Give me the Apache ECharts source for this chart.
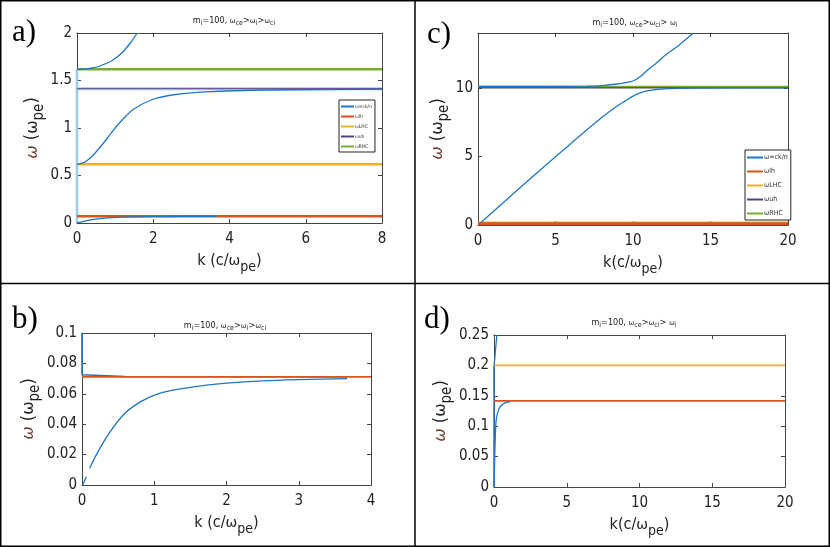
<!DOCTYPE html>
<html><head><meta charset="utf-8">
<script src="https://cdn.jsdelivr.net/npm/echarts@6/dist/echarts.min.js"></script>
<style>html,body{margin:0;padding:0;background:#fff}#c{width:830px;height:547px}</style>
</head><body><div id="c"></div><script>
// ---------- axis ranges [min, max, interval] ----------
const aXAxis = [0, 8, 2],   aYAxis = [0, 2, 0.5];
const bXAxis = [0, 4, 1],   bYAxis = [0, 0.1, 0.02];
const cXAxis = [0, 20, 5],  cYAxis = [0, 14, 5];
const dXAxis = [0, 20, 5],  dYAxis = [0, 0.25, 0.05];

// ---------- level lines (names / values) ----------
const levelNames = ['wlh', 'wLHC', 'wuh', 'wRHC'];
const aLevels = [0.0707, 0.618, 1.414, 1.618];
const cLevels = [0.1, 0.2, 10.0, 10.1];
const bLevels = [0.0712];
const dLevels = [0.1415, 0.2];

// ---------- panel a: dispersion branches ----------
const aUpper = [[0,1.618],[0.21,1.622],[0.37,1.63],[0.58,1.65],[0.88,1.70],[1.06,1.75],[1.2,1.80],[1.41,1.90],[1.58,2.0]];
const aMiddle = [[0,0.618],[0.14,0.63],[0.24,0.65],[0.39,0.70],[0.61,0.80],[0.81,0.90],[1.0,1.0],[1.22,1.10],[1.49,1.20],[1.98,1.30],[2.54,1.35],[3.37,1.38],[5.09,1.40],[8,1.409]];
const aLower = [[0,0],[0.1,0.01],[0.2,0.02],[0.36,0.033],[0.59,0.047],[0.82,0.055],[1.05,0.060],[1.28,0.0626],[1.7,0.0655],[2.0,0.067],[2.5,0.0685],[3.0,0.0693],[3.67,0.070]];
const aVertical = [[0,0],[0,1.618]];
const aUhShadow = [[0,1.414],[8,1.414]];

// ---------- panel b ----------
const bLowerA = [[0.01,0],[0.06,0.0055]];
const bLowerB = [[0.105,0.011],[0.2,0.02],[0.36,0.033],[0.59,0.047],[0.82,0.055],[1.05,0.060],[1.28,0.0626],[1.7,0.0655],[2.0,0.067],[2.5,0.0685],[3.0,0.0693],[3.67,0.070]];
const bUpper = [[0,0.1],[0,0.0725],[0.6,0.0714],[3.67,0.0712]];

// ---------- panel c ----------
const cLower = [[0,0],[2,2],[4,4],[6,5.95],[8,7.85],[9,8.7],[9.5,9.05],[10,9.4],[10.5,9.65],[11,9.8],[12,9.93],[13,9.97],[14,9.99],[20,10.0]];
const cUpper = [[0,10.1],[4,10.1],[7,10.12],[8,10.17],[9,10.28],[9.5,10.38],[10,10.5],[10.5,10.85],[11,11.35],[11.5,11.8],[12,12.3],[13,13.15],[13.9,14]];

// ---------- panel d ----------
const dLower = [[0,0],[0.05,0.05],[0.1,0.09],[0.15,0.11],[0.27,0.124],[0.4,0.131],[0.62,0.1365],[0.85,0.139],[1.1,0.14]];
const dUpper = [[0,0.2],[0.05,0.21],[0.1,0.225],[0.2,0.25]];
const dVertical = [[0,0],[0,0.2]];

// ---------- text ----------
const titleAB = 'm{sub|i}=100, {w|ω}{sub|ce}>{w|ω}{sub|i}>{w|ω}{sub|ci}';
const titleCD = 'm{sub|i}=100, {w|ω}{sub|ce}>{w|ω}{sub|ci}> {w|ω}{sub|i}';
const xNameAB = 'k (c/{w|ω}{sub|pe})';
const xNameCD = 'k(c/{w|ω}{sub|pe})';
const yName = '{g|ω} ({w|ω}{sub|pe})';
const legendLabels = {wck:'{w|ω}=ck/n', wlh:'{w|ω}{sub|lh}', wLHC:'{w|ω}{sub|LHC}', wuh:'{w|ω}{sub|uh}', wRHC:'{w|ω}{sub|RHC}'};
const panelLabels = ['a)', 'b)', 'c)', 'd)'];

const C = {blue:'#1f77c4', light:'#9dcbea', orange:'#d9541e', yellow:'#ecb224', purple:'#5e3a80', green:'#77ac30'};
const NARROW = "'Liberation Sans Narrow','DejaVu Sans Condensed',sans-serif";
const AX = '#444';

const grids = [
  {left:77, top:33, width:305, height:190},   // a
  {left:82, top:333, width:289, height:152},  // b
  {left:478, top:33, width:310, height:192},  // c
  {left:494, top:335, width:291, height:152}  // d
];
const ranges = [[aXAxis,aYAxis],[bXAxis,bYAxis],[cXAxis,cYAxis],[dXAxis,dYAxis]];
const xNames = [xNameAB, xNameAB, xNameCD, xNameCD];
const yNameGaps = [21, 32, 18, 28];

const xNameStyle = {
  fontFamily: NARROW, fontSize: 16, color: '#222', lineHeight: 26,
  rich: {
    w: {fontFamily:'DejaVu Sans', fontSize: 14, lineHeight: 26, color:'#222'},
    sub: {fontFamily: NARROW, fontSize: 14, lineHeight: 14, verticalAlign: 'bottom', color:'#222'}
  }
};
const yNameStyle = {
  fontFamily: NARROW, fontSize: 18, color: '#222', lineHeight: 28,
  rich: {
    w: {fontFamily:'DejaVu Sans', fontSize: 16, lineHeight: 28, color:'#222'},
    g: {fontFamily:'DejaVu Sans', fontSize: 16, lineHeight: 28, color:'#6b3a2c', fontStyle:'italic'},
    sub: {fontFamily: NARROW, fontSize: 15, lineHeight: 15, verticalAlign: 'bottom', color:'#222'}
  }
};

const xAxis = [], yAxis = [];
ranges.forEach((r, i) => {
  const [xr, yr] = r;
  const base = {
    type:'value', gridIndex:i, splitLine:{show:false},
    axisLine:{show:true, onZero:false, lineStyle:{color:AX, width:1}},
    axisTick:{show:true, inside:true, length:4, lineStyle:{color:AX}}
  };
  xAxis.push(Object.assign({}, base, {
    position:'bottom', min:xr[0], max:xr[1], interval:xr[2],
    axisLabel:{fontFamily:NARROW, fontSize:15, color:'#222', margin:9},
    name:xNames[i], nameLocation:'middle', nameGap:24, nameTextStyle:xNameStyle
  }));
  yAxis.push(Object.assign({}, base, {
    position:'left', min:yr[0], max:yr[1], interval:yr[2],
    axisLabel:{fontFamily:NARROW, fontSize:15, color:'#222', margin:5, showMaxLabel: i !== 2},
    name:yName, nameLocation:'middle', nameGap:yNameGaps[i], nameRotate:90, nameTextStyle:yNameStyle
  }));
});
ranges.forEach((r, i) => {
  const [xr, yr] = r;
  const base = {
    type:'value', gridIndex:i, splitLine:{show:false}, axisLabel:{show:false},
    axisLine:{show:true, onZero:false, lineStyle:{color:AX, width:1}},
    axisTick:{show:true, inside:true, length:4, lineStyle:{color:AX}}
  };
  xAxis.push(Object.assign({}, base, {position:'top', min:xr[0], max:xr[1], interval:xr[2]}));
  yAxis.push(Object.assign({}, base, {position:'right', min:yr[0], max:yr[1], interval:yr[2]}));
});

function line(name, data, color, width, idx, z, smooth) {
  return {
    type:'line', name, data, xAxisIndex:idx, yAxisIndex:idx,
    showSymbol:false, symbol:'none', animation:false, silent:true, z:z||2,
    smooth: smooth ? 0.25 : false,
    color, itemStyle:{color}, lineStyle:{color, width}
  };
}
function level(name, value, range, color, width, idx, z) {
  return line(name, [[range[0], value], [range[1], value]], color, width, idx, z, false);
}
const levelColors = [C.orange, C.yellow, C.purple, C.green];

const series = [];
// panel a (index 0)
series.push(line('wck', aLower, C.blue, 1.3, 0, 3, true));
series.push(line('wck', aMiddle, C.blue, 1.3, 0, 3, true));
series.push(line('wck', aUpper, C.blue, 1.3, 0, 3, true));
series.push(line('shadow', aVertical, C.light, 2.5, 0, 1));
series.push(line('shadow', aUhShadow, C.light, 3, 0, 1));
const aWidths = [2.5, 2.5, 0.9, 2.5];
aLevels.forEach((v, j) => series.push(level(levelNames[j], v, aXAxis, levelColors[j], aWidths[j], 0, j===2?4:2)));
// panel b (index 1)
series.push(line('wck', bLowerA, C.blue, 1.3, 1, 3));
series.push(line('wck', bLowerB, C.blue, 1.3, 1, 3, true));
series.push(line('wck', bUpper, C.blue, 1.6, 1, 3));
bLevels.forEach((v, j) => series.push(level(levelNames[j], v, bXAxis, levelColors[j], 1.8, 1, 4)));
// panel c (index 2)
series.push(line('wck', cLower, C.blue, 1.3, 2, 3, true));
series.push(line('wck', cUpper, C.blue, 1.3, 2, 3, true));
const cColors = [C.orange, C.yellow, '#4d4654', C.green];
const cWidths = [3, 1.5, 1.5, 1.5];
cLevels.forEach((v, j) => series.push(level(levelNames[j], v, cXAxis, cColors[j], cWidths[j], 2, j===0?3:2)));
// panel d (index 3)
series.push(line('wck', dLower, C.blue, 1.3, 3, 3, true));
series.push(line('wck', dUpper, C.blue, 1.3, 3, 3, true));
series.push(line('shadow', dVertical, C.blue, 1.5, 3, 1));
dLevels.forEach((v, j) => series.push(level(levelNames[j], v, dXAxis, levelColors[j], 1.8, 3, 2)));

const legendNames = ['wck'].concat(levelNames);
function legend(left, top, fs, iw, gap) {
  return {
    show:true, data:legendNames, orient:'vertical', left, top,
    icon:'rect', itemWidth:iw, itemHeight:2, itemGap:gap, selectedMode:false,
    backgroundColor:'#fff', borderColor:'#222', borderWidth:1, padding:[4,3,3,2],
    formatter: n => legendLabels[n],
    textStyle:{fontFamily:NARROW, fontSize:fs, color:'#333', padding:[0,0,0,-4],
      rich:{w:{fontSize:fs, color:'#333'}, sub:{fontSize:fs, lineHeight:fs, verticalAlign:'bottom', color:'#333'}}}
  };
}

const titleRich = {
  fontFamily:NARROW, fontSize:9, fontWeight:'normal', color:'#222', lineHeight:12,
  rich:{w:{fontFamily:'DejaVu Sans', fontSize:7, lineHeight:12, color:'#222'}, sub:{fontFamily:NARROW, fontSize:7, lineHeight:7, verticalAlign:'bottom', color:'#222'}}
};
const titles = [
  {text:titleAB, left:234, top:15, textAlign:'center', textStyle:titleRich, padding:0},
  {text:titleAB, left:225, top:320, textAlign:'center', textStyle:titleRich, padding:0},
  {text:titleCD, left:635, top:17, textAlign:'center', textStyle:titleRich, padding:0},
  {text:titleCD, left:634, top:317, textAlign:'center', textStyle:titleRich, padding:0}
];

const labelPos = [[12,33],[12,320],[427,35],[424,320]];
const graphic = [
  {type:'rect', shape:{x:0.75, y:0.75, width:828.5, height:545.5}, style:{fill:'none', stroke:'#000', lineWidth:1.5}, silent:true},
  {type:'line', shape:{x1:415, y1:0, x2:415, y2:547}, style:{stroke:'#000', lineWidth:1.5}, silent:true},
  {type:'line', shape:{x1:0, y1:283.5, x2:830, y2:283.5}, style:{stroke:'#000', lineWidth:1.5}, silent:true}
].concat(panelLabels.map((t, i) => ({
  type:'text', x:labelPos[i][0], y:labelPos[i][1], silent:true,
  style:{text:t, fontFamily:"'Liberation Serif',serif", fontSize:31, fill:'#000', verticalAlign:'middle', align:'left'}
})));

const chart = echarts.init(document.getElementById('c'), null, {renderer:'canvas'});
chart.setOption({
  backgroundColor:'#fff', animation:false,
  grid: grids.map(g => Object.assign({containLabel:false}, g)),
  xAxis, yAxis, series,
  legend:[legend(339, 100, 5, 13, 5), legend(745, 150, 7, 16, 7)],
  title: titles,
  graphic
});
</script></body></html>
